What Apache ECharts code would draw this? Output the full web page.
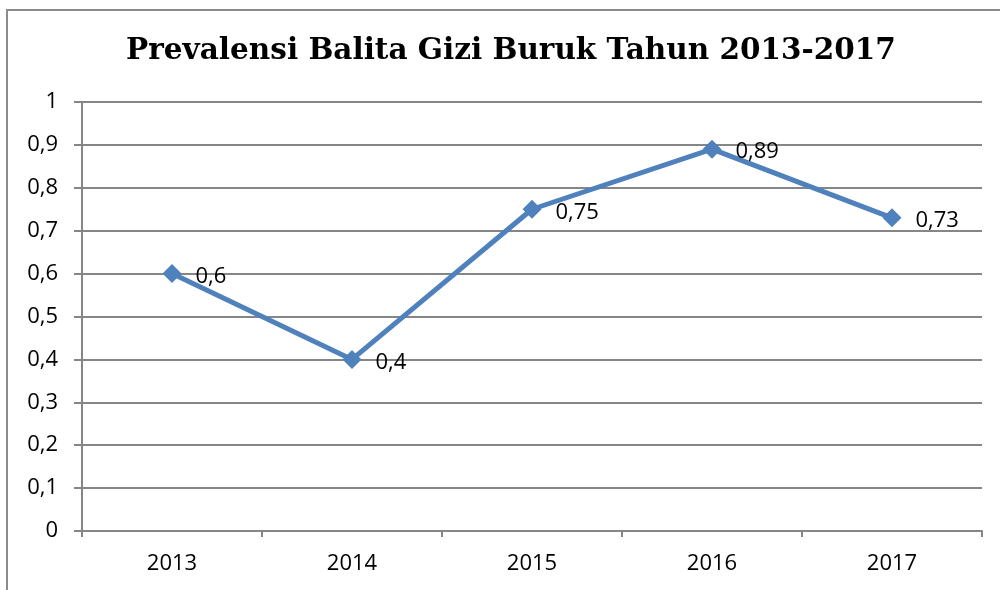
<!DOCTYPE html>
<html>
<head>
<meta charset="UTF-8">
<title>Prevalensi Balita Gizi Buruk</title>
<script type="text/javascript" src="https://cdn.jsdelivr.net/npm/echarts@6/dist/echarts.min.js"></script>
<style>
body { margin: 0; background: #fff; }
#div { width: 1000px; height: 590px; }
</style>
</head>
<body>
<div id="div"></div>
<script type="text/javascript">
var years = ['2013', '2014', '2015', '2016', '2017'];
var prevalensi = [0.6, 0.4, 0.75, 0.89, 0.73];

var mychart = echarts.init(document.getElementById('div'));
var option = {
	animation : false,
	title : {
		text : 'Prevalensi Balita Gizi Buruk Tahun 2013-2017',
		left : 506,
		top : 31,
		textAlign : 'center',
		textStyle : {
			fontFamily : 'DejaVu Serif',
			fontWeight : 'bold',
			fontSize : 29.5,
			color : '#000'
		}
	},
	graphic : [ {
		type : 'rect',
		shape : { x : 7, y : 10, width : 1010, height : 600 },
		style : { fill : null, stroke : '#8c8c8c', lineWidth : 2 }
	} ],
	grid : {
		left : 82,
		right : 18,
		top : 102,
		bottom : 59
	},
	xAxis : {
		type : 'category',
		data : years,
		boundaryGap : true,
		axisLine : { lineStyle : { color : '#868686', width : 2 } },
		axisTick : { show : true, length : 6, lineStyle : { color : '#868686', width : 2 } },
		axisLabel : {
			margin : 22,
			fontSize : 22,
			fontFamily : 'Open Sans',
			color : '#000'
		}
	},
	yAxis : {
		type : 'value',
		min : 0,
		max : 1,
		interval : 0.1,
		axisLine : { show : true, lineStyle : { color : '#868686', width : 2 } },
		axisTick : { show : true, length : 8, lineStyle : { color : '#868686', width : 2 } },
		splitLine : { lineStyle : { color : '#868686', width : 2 } },
		axisLabel : {
			margin : 24,
			fontSize : 22,
			fontFamily : 'Open Sans',
			color : '#000',
			formatter : function(v) {
				return String(Math.round(v * 10) / 10).replace('.', ',');
			}
		}
	},
	series : [ {
		name : 'Prevalensi',
		type : 'line',
		data : prevalensi,
		symbol : 'diamond',
		symbolSize : 19,
		lineStyle : { color : '#4f81bd', width : 5 },
		itemStyle : { color : '#4f81bd' },
		label : {
			show : true,
			position : 'right',
			distance : 14,
			offset : [0, 3],
			fontSize : 22,
			fontFamily : 'Open Sans',
			color : '#000',
			formatter : function(p) {
				return String(p.value).replace('.', ',');
			}
		}
	} ]
};
mychart.setOption(option);
</script>
</body>
</html>
